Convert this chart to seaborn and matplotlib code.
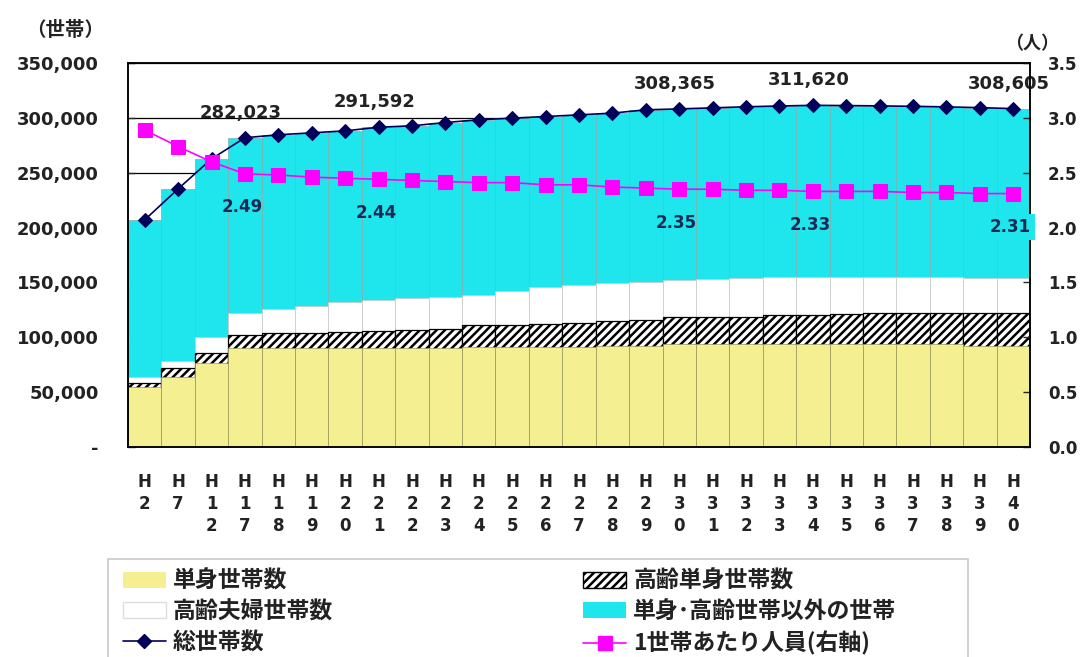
import matplotlib
matplotlib.use("Agg")
import matplotlib.pyplot as plt
from matplotlib.lines import Line2D
from matplotlib.patches import Patch, Rectangle
import numpy as np
import seaborn as sns

sns.set_theme(style="white")
plt.rcParams["font.family"] = ["DejaVu Sans", "Noto Sans CJK JP"]
plt.rcParams["hatch.linewidth"] = 1.8

# ---- data ----
years = ["H2", "H7", "H12", "H17", "H18", "H19", "H20", "H21", "H22", "H23",
         "H24", "H25", "H26", "H27", "H28", "H29", "H30", "H31", "H32", "H33",
         "H34", "H35", "H36", "H37", "H38", "H39", "H40"]
tick_labels = ["H\n2", "H\n7", "H\n1\n2", "H\n1\n7", "H\n1\n8", "H\n1\n9",
               "H\n2\n0", "H\n2\n1", "H\n2\n2", "H\n2\n3", "H\n2\n4", "H\n2\n5",
               "H\n2\n6", "H\n2\n7", "H\n2\n8", "H\n2\n9", "H\n3\n0", "H\n3\n1",
               "H\n3\n2", "H\n3\n3", "H\n3\n4", "H\n3\n5", "H\n3\n6", "H\n3\n7",
               "H\n3\n8", "H\n3\n9", "H\n4\n0"]

single = [54100, 63800, 76000, 89700, 89700, 89700, 89700, 89700, 89700, 89700,
          91200, 91200, 91200, 91200, 91800, 91800, 93700, 93700, 93700, 93700,
          93700, 93700, 93700, 93700, 93700, 91800, 91800]
elderly_single = [3700, 8200, 9200, 12200, 13700, 14000, 15200, 16100, 16800, 17400,
                  19800, 20000, 20700, 21900, 23200, 23800, 24400, 24700, 24900, 26500,
                  26700, 27400, 28000, 28200, 28300, 29900, 30000]
elderly_couple = [5400, 6400, 15100, 19800, 22000, 25000, 27400, 28100, 28900, 29800,
                  27400, 30500, 33600, 34500, 34100, 35000, 34000, 34700, 35100, 35000,
                  34800, 34100, 33500, 33300, 33200, 32000, 32000]
total = [207000, 235300, 262700, 282023, 284700, 286500, 288300, 291592, 292900, 295900,
         298400, 299900, 301400, 302900, 304500, 307500, 308365, 309300, 310300, 311000,
         311620, 311400, 311100, 310700, 310200, 309500, 308605]
persons = [2.89, 2.74, 2.60, 2.49, 2.48, 2.46, 2.45, 2.44, 2.43, 2.42,
           2.41, 2.41, 2.39, 2.39, 2.37, 2.36, 2.35, 2.35, 2.34, 2.34,
           2.33, 2.33, 2.33, 2.32, 2.32, 2.31, 2.31]
label_idx = [3, 7, 16, 20, 26]

left_ticks = [0, 50000, 100000, 150000, 200000, 250000, 300000, 350000]
left_tick_labels = ["-", "50,000", "100,000", "150,000", "200,000",
                    "250,000", "300,000", "350,000"]
right_ticks = [0.0, 0.5, 1.0, 1.5, 2.0, 2.5, 3.0, 3.5]

YELLOW = "#F4F092"
CYAN = "#1FE5EC"
NAVY = "#00005A"
MAGENTA = "#FF00FF"
TXT = "#222222"

n = len(years)
pos = np.arange(n)
top_single = np.array(single)
top_hatch = top_single + np.array(elderly_single)
top_couple = top_hatch + np.array(elderly_couple)

fig = plt.figure(figsize=(10.82, 6.57), dpi=100)
ax = fig.add_axes([128 / 1082, 1 - 446.5 / 657, 902 / 1082, 383.2 / 657])

# stacked bars, drawn tallest first
sns.barplot(x=years, y=total, color=CYAN, saturation=1, width=1,
            edgecolor="#7fb0b0", linewidth=0.5, ax=ax, zorder=2)
sns.barplot(x=years, y=top_couple, color="white", saturation=1, width=1,
            edgecolor="#c8c8c8", linewidth=0.5, ax=ax, zorder=2)
sns.barplot(x=years, y=top_hatch, color="white", saturation=1, width=1,
            edgecolor="black", linewidth=0.9, hatch="////", ax=ax, zorder=2)
sns.barplot(x=years, y=single, color=YELLOW, saturation=1, width=1,
            edgecolor="#9a9a60", linewidth=0.5, ax=ax, zorder=2)

sns.lineplot(x=pos, y=total, color=NAVY, lw=1.2, marker="D", markersize=7,
             markeredgecolor=NAVY, ax=ax, zorder=4)

ax.set_ylim(0, 350000)
ax.set_xlim(-0.5, n - 0.5)
ax.set_xlabel("")
ax.set_ylabel("")
ax.set_axisbelow(True)
ax.yaxis.grid(True, color="black", lw=0.9)
ax.set_yticks(left_ticks, left_tick_labels)
ax.set_xticks(pos, tick_labels)
ax.set_xticks(np.arange(0.5, n - 1, 1), minor=True)
ax.tick_params(axis="y", direction="in", length=5, width=1, pad=21,
               labelsize=13, labelcolor=TXT, left=True)
ax.tick_params(axis="x", which="major", length=0, pad=19, labelsize=12,
               labelcolor=TXT)
ax.tick_params(axis="x", which="minor", direction="in", length=5, width=1,
               bottom=True)
for lbl in ax.get_yticklabels():
    lbl.set_fontweight("bold")
for lbl in ax.get_xticklabels():
    lbl.set_linespacing(1.3)
    lbl.set_fontweight("bold")
for s in ax.spines.values():
    s.set_color("black")
    s.set_linewidth(1.1)

for i in label_idx:
    ax.annotate(f"{total[i]:,}", (pos[i], total[i]), xytext=(-3, 18),
                textcoords="offset points", ha="center", va="center",
                fontsize=13, fontweight="bold", color=TXT, zorder=6)

ax2 = ax.twinx()
sns.lineplot(x=pos, y=persons, color=MAGENTA, lw=1.2, marker="s", markersize=10,
             markeredgecolor=MAGENTA, ax=ax2, zorder=5)
ax2.set_ylim(0, 3.5)
ax2.set_ylabel("")
ax2.set_yticks(right_ticks, [f"{v:.1f}" for v in right_ticks])
ax2.tick_params(axis="y", direction="in", length=5, width=1, pad=13,
                labelsize=12, labelcolor=TXT, right=True)
for lbl in ax2.get_yticklabels():
    lbl.set_fontweight("bold")
ax2.grid(False)
for s in ax2.spines.values():
    s.set_color("black")
    s.set_linewidth(1.1)

for i in label_idx:
    box = None
    if i == n - 1:
        box = dict(boxstyle="square,pad=0.25", fc=CYAN, ec="none")
    ax2.annotate(f"{persons[i]:.2f}", (pos[i], persons[i]), xytext=(-2, -24),
                 textcoords="offset points", ha="center", va="center",
                 fontsize=12, fontweight="bold", color="#1a2a55", bbox=box,
                 annotation_clip=False, zorder=6)

fig.text(65 / 1082, 1 - 30 / 657, "（世帯）", ha="center", va="center",
         fontsize=14, fontweight="bold", color=TXT,
         family=["Noto Sans CJK JP", "DejaVu Sans"])
fig.text(1032 / 1082, 1 - 44 / 657, "（人）", ha="center", va="center",
         fontsize=13, fontweight="bold", color=TXT,
         family=["Noto Sans CJK JP", "DejaVu Sans"])

# legend frame (runs off the bottom edge like in the source image)
fig.patches.append(Rectangle((108 / 1082, 1 - 720 / 657), 860 / 1082, 161 / 657,
                             transform=fig.transFigure, facecolor="white",
                             edgecolor="#c8c8c8", lw=1.2, zorder=0))

handles = [
    Patch(facecolor=YELLOW, edgecolor="none"),
    Patch(facecolor="white", edgecolor="#dddddd"),
    Line2D([], [], color=NAVY, lw=1.2, marker="D", markersize=7),
    Patch(facecolor="white", edgecolor="black", hatch="////"),
    Patch(facecolor=CYAN, edgecolor="none"),
    Line2D([], [], color=MAGENTA, lw=1.2, marker="s", markersize=10),
]
labels = ["単身世帯数", "高齢夫婦世帯数", "総世帯数",
          "高齢単身世帯数", "単身･高齢世帯以外の世帯", "1世帯あたり人員(右軸)"]
leg = fig.legend(handles, labels, loc="upper left",
                 bbox_to_anchor=(102 / 1082, 1 - 549 / 657), ncol=2,
                 frameon=False, handlelength=1.9, handleheight=0.7,
                 handletextpad=0.3, columnspacing=10.9, labelspacing=0.34,
                 borderpad=0.4,
                 prop={"family": ["Noto Sans CJK JP"], "weight": "bold",
                       "size": 16.5})
for t in leg.get_texts():
    t.set_color(TXT)

fig.savefig("out.png", dpi=100)
